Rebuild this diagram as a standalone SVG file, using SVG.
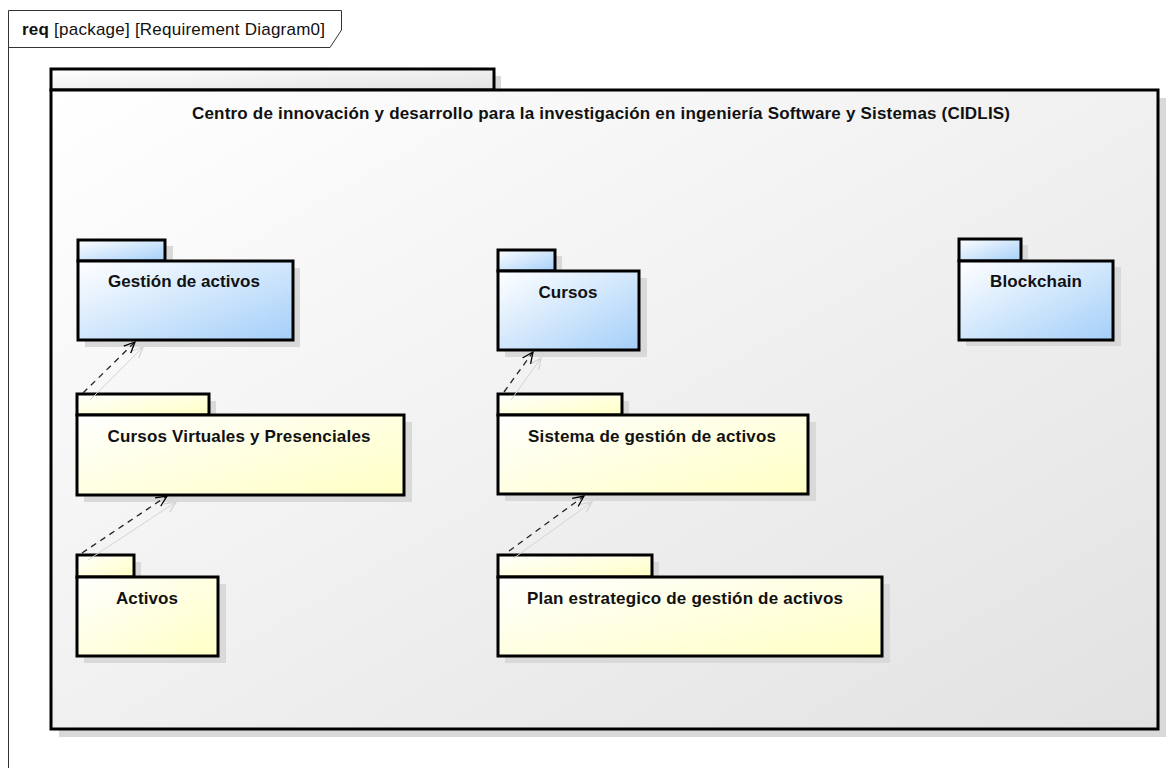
<svg xmlns="http://www.w3.org/2000/svg" width="1172" height="768" viewBox="0 0 1172 768">
<defs>
<linearGradient id="gBig" x1="0" y1="0" x2="1" y2="1"><stop offset="0" stop-color="#ffffff"/><stop offset="1" stop-color="#e2e2e2"/></linearGradient>
<linearGradient id="gBlue" x1="0" y1="0" x2="1" y2="1"><stop offset="0" stop-color="#ffffff"/><stop offset="1" stop-color="#a4cff9"/></linearGradient>
<linearGradient id="gYel" x1="0" y1="0" x2="1" y2="1"><stop offset="0" stop-color="#ffffff"/><stop offset="1" stop-color="#ffffc4"/></linearGradient>
<marker id="arr" viewBox="0 0 12 12" refX="11" refY="6" markerWidth="12" markerHeight="12" markerUnits="userSpaceOnUse" orient="auto"><path d="M0,1 L11,6 L0,11" fill="none" stroke="#000" stroke-width="1.3"/></marker>
<marker id="arrS" viewBox="0 0 12 12" refX="11" refY="6" markerWidth="12" markerHeight="12" markerUnits="userSpaceOnUse" orient="auto"><path d="M0,1 L11,6 L0,11" fill="none" stroke="#d4d4d4" stroke-width="1.3"/></marker>
</defs>
<style>
.sh{fill:#d9d9d9}
.pk{stroke:#000;stroke-width:3}
.blue{fill:url(#gBlue)}
.yel{fill:url(#gYel)}
.lbl{font-family:"Liberation Sans",Arial,sans-serif;font-size:17px;font-weight:bold;fill:#111;text-anchor:middle}
.dep{fill:none;stroke:#222;stroke-width:1.3;stroke-dasharray:6,5;marker-end:url(#arr)}
.deps{fill:none;stroke:#d4d4d4;stroke-width:1}
</style>
<rect width="1172" height="768" fill="#fff"/>
<g id="frame">
<path d="M8.5,768 L8.5,10.5 L341.5,10.5 L341.5,30 L330,47.5 L8.5,47.5" fill="none" stroke="#333" stroke-width="1"/>
<text x="22" y="35" font-family="Liberation Sans,Arial,sans-serif" font-size="17" fill="#111" textLength="303" lengthAdjust="spacing"><tspan font-weight="bold">req</tspan> [package] [Requirement Diagram0]</text>
</g>
<g id="cidlis">
<rect x="59" y="76" width="442" height="22" class="sh"/>
<rect x="59" y="98" width="1107" height="639" class="sh"/>
<rect x="51" y="69" width="443" height="21" fill="url(#gBig)" class="pk"/>
<rect x="51" y="90" width="1107" height="639" fill="url(#gBig)" class="pk"/>
<text x="601" y="119" class="lbl" textLength="818" lengthAdjust="spacing">Centro de innovación y desarrollo para la investigación en ingeniería Software y Sistemas (CIDLIS)</text>
</g>
<g id="gestion">
<rect x="85" y="246" width="88" height="22" class="sh"/>
<rect x="85" y="268" width="215" height="79" class="sh"/>
<rect x="78" y="240" width="87" height="21" class="blue pk"/>
<rect x="78" y="261" width="215" height="79" class="blue pk"/>
<text x="184" y="287" class="lbl" textLength="152" lengthAdjust="spacing">Gestión de activos</text>
</g>
<g id="cursos">
<rect x="505" y="256" width="57" height="22" class="sh"/>
<rect x="505" y="278" width="142" height="79" class="sh"/>
<rect x="498" y="250" width="57" height="21" class="blue pk"/>
<rect x="498" y="271" width="141" height="79" class="blue pk"/>
<text x="568" y="298" class="lbl" textLength="59" lengthAdjust="spacing">Cursos</text>
</g>
<g id="blockchain">
<rect x="966" y="245" width="62" height="22" class="sh"/>
<rect x="966" y="267" width="155" height="79" class="sh"/>
<rect x="959" y="239" width="62" height="22" class="blue pk"/>
<rect x="959" y="261" width="154" height="79" class="blue pk"/>
<text x="1036" y="287" class="lbl" textLength="92" lengthAdjust="spacing">Blockchain</text>
</g>
<g id="cursosVirtuales">
<rect x="84" y="401" width="132" height="22" class="sh"/>
<rect x="84" y="422" width="328" height="80" class="sh"/>
<rect x="77" y="394" width="132" height="21" class="yel pk"/>
<rect x="77" y="415" width="327" height="80" class="yel pk"/>
<text x="239" y="442" class="lbl" textLength="263" lengthAdjust="spacing">Cursos Virtuales y Presenciales</text>
</g>
<g id="sistema">
<rect x="505" y="401" width="124" height="22" class="sh"/>
<rect x="505" y="422" width="311" height="79" class="sh"/>
<rect x="498" y="394" width="124" height="21" class="yel pk"/>
<rect x="498" y="415" width="310" height="79" class="yel pk"/>
<text x="652" y="442" class="lbl" textLength="248" lengthAdjust="spacing">Sistema de gestión de activos</text>
</g>
<g id="activos">
<rect x="84" y="562" width="57" height="22" class="sh"/>
<rect x="84" y="584" width="142" height="79" class="sh"/>
<rect x="77" y="555" width="57" height="22" class="yel pk"/>
<rect x="77" y="577" width="141" height="79" class="yel pk"/>
<text x="147" y="604" class="lbl" textLength="62" lengthAdjust="spacing">Activos</text>
</g>
<g id="plan">
<rect x="505" y="562" width="154" height="22" class="sh"/>
<rect x="505" y="584" width="385" height="79" class="sh"/>
<rect x="498" y="555" width="154" height="22" class="yel pk"/>
<rect x="498" y="577" width="384" height="79" class="yel pk"/>
<text x="685" y="604" class="lbl" textLength="316" lengthAdjust="spacing">Plan estrategico de gestión de activos</text>
</g>
<g id="connectors">
<path d="M90,400 L143,347" class="deps" marker-end="url(#arrS)"/>
<path d="M88,560 L176,502" class="deps" marker-end="url(#arrS)"/>
<path d="M511,400 L541,358" class="deps" marker-end="url(#arrS)"/>
<path d="M514,558 L592,502" class="deps" marker-end="url(#arrS)"/>
<path d="M83,393 L135,342" class="dep"/>
<path d="M82,553 L167,496" class="dep"/>
<path d="M504,392 L533,352" class="dep"/>
<path d="M509,551 L584,496" class="dep"/>
</g>
</svg>
